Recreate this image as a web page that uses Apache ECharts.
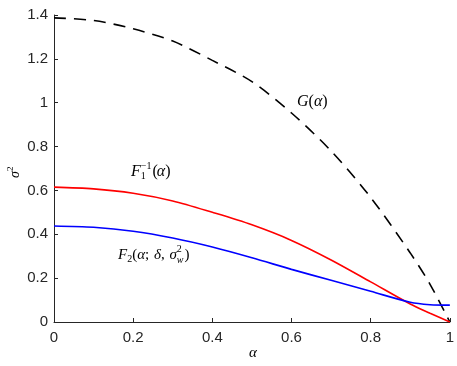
<!DOCTYPE html>
<html><head><meta charset="utf-8">
<script src="https://cdn.jsdelivr.net/npm/echarts@6/dist/echarts.min.js"></script>
<style>html,body{margin:0;padding:0;background:#fff}#c{width:457px;height:366px}</style>
</head><body><div id="c"></div>
<script>
const alpha = [0, 0.1, 0.2, 0.3, 0.4, 0.5, 0.6, 0.7, 0.8, 0.9, 0.95, 1];
const G = [1.387, 1.375, 1.337, 1.281, 1.193, 1.096, 0.953, 0.78, 0.568, 0.315, 0.172, 0];
const F1inv = [0.615, 0.607, 0.587, 0.552, 0.5, 0.443, 0.372, 0.283, 0.183, 0.082, 0.04, 0];
const F2 = [0.438, 0.432, 0.414, 0.383, 0.342, 0.293, 0.24, 0.19, 0.14, 0.09, 0.079, 0.077];
const xTicks = [0, 0.2, 0.4, 0.6, 0.8, 1];
const yTicks = [0, 0.2, 0.4, 0.6, 0.8, 1, 1.2, 1.4];

const pairs = ys => alpha.map((a, i) => [a, ys[i]]);
const SERIF = '"Liberation Serif", "DejaVu Serif", serif';
const SANS = '"Liberation Sans", Arial, sans-serif';

const cv = document.createElement('canvas').getContext('2d');
function measure(t, font) { cv.font = font; return cv.measureText(t).width; }
// tokens: {t, it, size, dy, stack, dx, gap}
function mathText(x, base, tokens) {
  const els = [];
  let cx = x, lastX = x;
  tokens.forEach(k => {
    const size = k.size || 15;
    const font = (k.it ? 'italic ' : '') + size + 'px ' + SERIF;
    const w = measure(k.t, font);
    const px = k.stack ? lastX : cx;
    els.push({ type: 'text', x: px + (k.dx || 0), y: base + (k.dy || 0) - 0.33 * size,
      style: { text: k.t, font: font, fill: '#000', verticalAlign: 'middle', align: 'left' } });
    if (k.stack) { cx = Math.max(cx, lastX + w); }
    else { lastX = cx; cx = cx + w + (k.gap || 0); }
  });
  return els;
}

const chart = echarts.init(document.getElementById('c'), null, { renderer: 'canvas' });
const axisStyle = { lineStyle: { color: '#262626', width: 1 } };
chart.setOption({
  animation: false,
  backgroundColor: '#fff',
  grid: { left: 54, right: 7, top: 15, bottom: 44, containLabel: false },
  xAxis: {
    type: 'value', min: 0, max: 1, interval: 0.2,
    axisLine: { show: true, ...axisStyle },
    axisTick: { show: true, inside: true, length: 4, ...axisStyle },
    splitLine: { show: false },
    axisLabel: { color: '#262626', fontFamily: SANS, fontSize: 15, margin: 8 }
  },
  yAxis: {
    type: 'value', min: 0, max: 1.4, interval: 0.2,
    axisLine: { show: true, ...axisStyle },
    axisTick: { show: true, inside: true, length: 4, ...axisStyle },
    splitLine: { show: false },
    axisLabel: { color: '#262626', fontFamily: SANS, fontSize: 15, margin: 6 }
  },
  series: [
    { type: 'line', name: 'G', data: pairs(G), smooth: 0.3, showSymbol: false,
      lineStyle: { color: '#000', width: 1.6, type: [12, 8] } },
    { type: 'line', name: 'F1inv', data: pairs(F1inv), smooth: 0.3, showSymbol: false,
      lineStyle: { color: '#ff0000', width: 1.6 } },
    { type: 'line', name: 'F2', data: pairs(F2), smooth: 0.3, showSymbol: false,
      lineStyle: { color: '#0000ff', width: 1.6 } }
  ],
  graphic: [
    ...mathText(297, 107, [
      { t: 'G', it: true, size: 16 }, { t: '(', size: 16 }, { t: 'α', it: true, size: 16 }, { t: ')', size: 16 }]),
    ...mathText(131, 177, [
      { t: 'F', it: true, size: 16, gap: 0 },
      { t: '1', size: 10, dy: 3 },
      { t: '−1', size: 10, dy: -7, stack: true },
      { t: '(', dx: 1, size: 16 }, { t: 'α', it: true, size: 16 }, { t: ')', size: 16 }]),
    ...mathText(118, 260, [
      { t: 'F', it: true },
      { t: '2', size: 10, dy: 3 },
      { t: '(' }, { t: 'α', it: true }, { t: '; ', gap: 1 }, { t: 'δ', it: true }, { t: ', ', gap: 1 },
      { t: 'σ', it: true },
      { t: 'w', it: true, size: 10, dy: 4 },
      { t: '2', size: 10, dy: -7, stack: true },
      { t: ')', dx: 1 }]),
    { type: 'group', x: 20, y: 172, rotation: Math.PI / 2, children: mathText(-6, 0, [
      { t: 'σ', it: true, size: 14 }, { t: '2', size: 9, dy: -6 }]) },
    ...mathText(249, 358, [{ t: 'α', it: true, size: 15 }])
  ]
});
</script></body></html>
